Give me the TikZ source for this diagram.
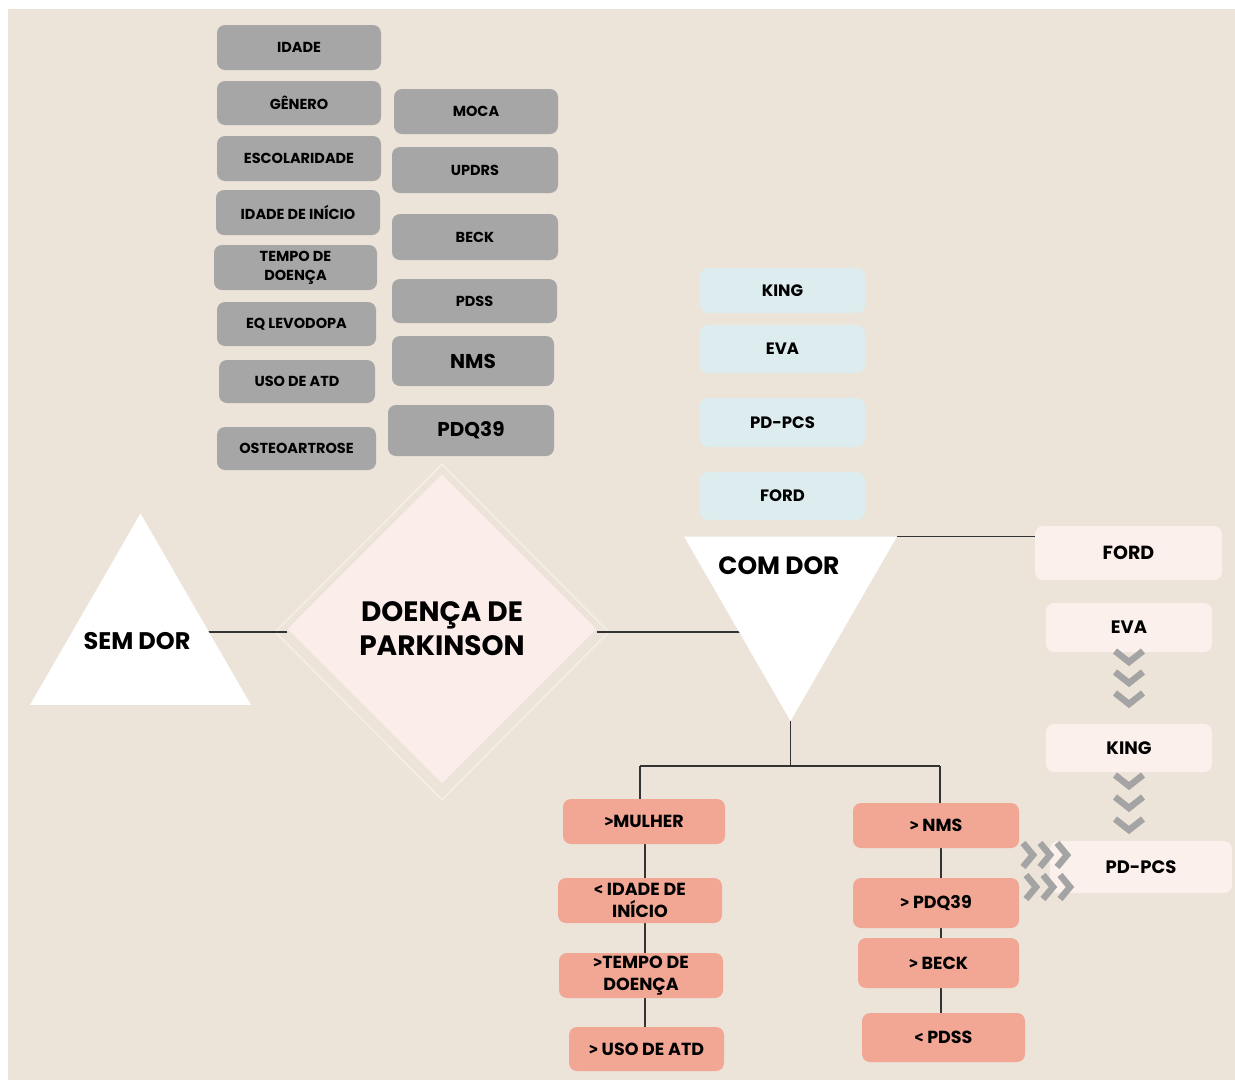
\documentclass[tikz,border=0pt]{standalone}
\usepackage{fontspec}
\setmainfont{Poppins}
\newfontfamily\symf{Fira Sans}
\usetikzlibrary{shapes.geometric,calc}
\pgfdeclarelayer{bg}
\pgfdeclarelayer{lines}
\pgfsetlayers{bg,lines,main}
\definecolor{bgc}{HTML}{ECE3D9}
\definecolor{grayc}{HTML}{A6A6A6}
\definecolor{bluec}{HTML}{DDEDEF}
\definecolor{pinkc}{HTML}{FCF0EC}
\definecolor{diac}{HTML}{FBEEEA}
\definecolor{diaout}{HTML}{F6EDE6}
\definecolor{salmc}{HTML}{F2A795}
\definecolor{linec}{HTML}{333333}
\definecolor{chevc}{HTML}{A4A4A4}
\newcommand\gt{{\symf\bfseries >}}
\newcommand\lt{{\symf\bfseries <}}
\newcommand\mybox[7]{%
  \pgfmathsetmacro\cx{(#3+#5)/2}\pgfmathsetmacro\cy{(#4+#6)/2}%
  \pgfmathsetmacro\bw{#5-#3}\pgfmathsetmacro\bh{#6-#4}%
  \node[#1,minimum width=\bw pt,minimum height=\bh pt] (#2) at (\cx,\cy) {#7};}
\newcommand\chevdown[2]{\draw[chev] (#1-14,#2-11) -- (#1,#2) -- (#1+14,#2-11);}
\newcommand\chevright[2]{\draw[chev] (#1-10,#2-12) -- (#1,#2) -- (#1-10,#2+12);}
\begin{document}
\begin{tikzpicture}[x=1pt,y=-1pt,
  box/.style={rectangle,rounded corners=8pt,inner sep=0pt,outer sep=0pt,align=center,text=black},
  gbox/.style={box,fill=grayc,font=\bfseries\fontsize{14.5}{19}\selectfont},
  gbig/.style={box,fill=grayc,font=\bfseries\fontsize{20}{24}\selectfont},
  bbox/.style={box,fill=bluec,font=\bfseries\fontsize{16.5}{20}\selectfont},
  pbox/.style={box,fill=pinkc,font=\bfseries\fontsize{18}{22}\selectfont},
  sbox/.style={box,fill=salmc,font=\bfseries\fontsize{17.5}{21.5}\selectfont},
  conn/.style={draw=linec,line width=1.6pt},
  chev/.style={draw=chevc,line width=6.5pt,line join=miter,line cap=butt},
  tri/.style={regular polygon,regular polygon sides=3,fill=white,inner sep=0pt,outer sep=0pt}]
\useasboundingbox (0,0) rectangle (1235,1080);
\begin{pgfonlayer}{bg}
  \fill[bgc] (8,9) rectangle (1235,1080);
  \node[diamond,draw=diaout,line width=1.6pt,minimum width=334pt,minimum height=336pt,inner sep=0pt] (dpo) at (442,632) {};
\end{pgfonlayer}

% gray left column
\mybox{gbox}{idade}{217}{25}{381}{70}{IDADE}
\mybox{gbox}{genero}{217}{81}{381}{125}{GÊNERO}
\mybox{gbox}{escol}{217}{136}{381}{181}{ESCOLARIDADE}
\mybox{gbox}{inicio}{216}{190}{380}{235}{IDADE DE INÍCIO}
\mybox{gbox}{tempo}{214}{245}{377}{290}{TEMPO DE\\DOENÇA}
\mybox{gbox}{eqlev}{217}{302}{376}{346}{EQ LEVODOPA}
\mybox{gbox}{uso}{219}{360}{375}{403}{USO DE ATD}
\mybox{gbox}{osteo}{217}{427}{376}{470}{OSTEOARTROSE}
% gray right column
\mybox{gbox}{moca}{394}{89}{558}{134}{MOCA}
\mybox{gbox}{updrs}{392}{147}{558}{193}{UPDRS}
\mybox{gbox}{beck}{392}{214}{558}{260}{BECK}
\mybox{gbox}{pdss}{392}{279}{557}{323}{PDSS}
\mybox{gbig}{nms}{392}{336}{554}{386}{NMS}
\mybox{gbig}{pdq}{388}{405}{554}{456}{PDQ39}
% blue
\mybox{bbox}{king}{700}{268}{865}{313}{KING}
\mybox{bbox}{eva}{700}{325}{865}{373}{EVA}
\mybox{bbox}{pdpcs}{700}{398}{865}{447}{PD-PCS}
\mybox{bbox}{ford}{700}{472}{865}{520}{FORD}
% right pink
\mybox{pbox,font=\bfseries\fontsize{19}{22}\selectfont}{fordb}{1035}{526}{1222}{580}{FORD}
\mybox{pbox}{evab}{1046}{603}{1212}{652}{EVA}
\mybox{pbox}{kingb}{1046}{724}{1212}{772}{KING}
\mybox{pbox}{pdpcsb}{1050}{841}{1232}{893}{PD-PCS}
% salmon
\mybox{sbox}{mulher}{563}{799}{725}{844}{\gt MULHER}
\mybox{sbox}{sidade}{558}{878}{722}{923}{\lt{} IDADE DE\\INÍCIO}
\mybox{sbox}{stempo}{559}{953}{723}{998}{\gt TEMPO DE\\DOENÇA}
\mybox{sbox}{suso}{569}{1027}{724}{1071}{\gt{} USO DE ATD}
\mybox{sbox}{snms}{853}{803}{1019}{848}{\gt{} NMS}
\mybox{sbox}{spdq}{853}{878}{1019}{928}{\gt{} PDQ39}
\mybox{sbox}{sbeck}{858}{938}{1019}{988}{\gt{} BECK}
\mybox{sbox}{spdss}{862}{1013}{1025}{1062}{\lt{} PDSS}

% central shapes
\node[diamond,fill=diac,minimum width=309pt,minimum height=309pt,inner sep=0pt,align=center,
  font=\bfseries\fontsize{28}{34}\selectfont] (dp) at (442,629) {DOENÇA DE\\PARKINSON};
\node[tri,minimum size=255pt] (sem) at (140.5,641) {};
\node[font=\bfseries\fontsize{24}{28}\selectfont] (semtxt) at (137,641) {SEM DOR};
\node[tri,shape border rotate=180,minimum size=246pt] (com) at (790.5,598) {};
\node[font=\bfseries\fontsize{25}{30}\selectfont] (comtxt) at (779,566) {COM DOR};

% connectors
\coordinate (jl) at (640,766);
\coordinate (jr) at (940,766);
\coordinate (lc) at (645,0);
\coordinate (rc) at (941,0);
\coordinate (hy) at (0,632);
\begin{pgfonlayer}{lines}
  \draw[conn] (dp.west |- hy) -- (sem.center |- hy);
  \draw[conn] (dp.east |- hy) -- (com.center |- hy);
  \draw[conn] (com.corner 2) -- (com.corner 2 -| fordb.west);
  \draw[conn] (com.corner 1) -- (com.corner 1 |- jl);
  \draw[conn] (jl) -- (jr);
  \draw[conn] (jl) -- (jl |- mulher.north);
  \draw[conn] (jr) -- (jr |- snms.north);
  \draw[conn] (mulher.south -| lc) -- (sidade.north -| lc);
  \draw[conn] (sidade.south -| lc) -- (stempo.north -| lc);
  \draw[conn] (stempo.south -| lc) -- (suso.north -| lc);
  \draw[conn] (snms.south -| rc) -- (spdq.north -| rc);
  \draw[conn] (spdq.south -| rc) -- (sbeck.north -| rc);
  \draw[conn] (sbeck.south -| rc) -- (spdss.north -| rc);
\end{pgfonlayer}

% chevrons
\chevdown{1129}{662}
\chevdown{1129}{683}
\chevdown{1129}{704}
\chevdown{1129}{786}
\chevdown{1129}{808}
\chevdown{1129}{830}
\chevright{1033}{855}
\chevright{1050}{855}
\chevright{1067}{855}
\chevright{1036}{887}
\chevright{1053}{887}
\chevright{1070}{887}
\end{tikzpicture}
\end{document}
